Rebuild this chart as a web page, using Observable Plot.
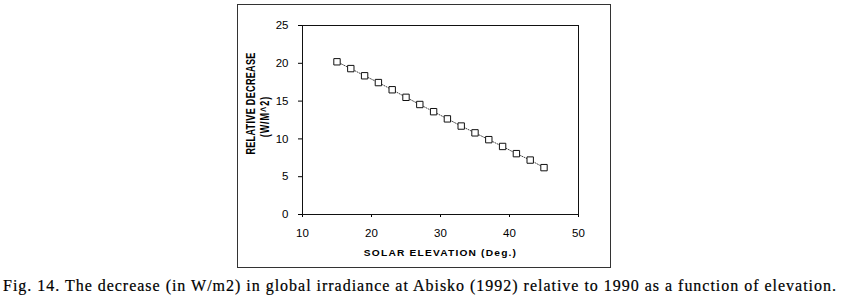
<!DOCTYPE html>
<html>
<head>
<meta charset="utf-8">
<script src="https://cdn.jsdelivr.net/npm/d3@7"></script>
<script src="https://cdn.jsdelivr.net/npm/@observablehq/plot@0.6"></script>
<style>
  html, body { margin: 0; padding: 0; background: #fff; width: 842px; height: 300px; overflow: hidden; }
  #frame { position: absolute; left: 237px; top: 4px; width: 372px; height: 262px; border: 1px solid #333; }
  #caption { position: absolute; left: 3px; top: 277px; white-space: nowrap; line-height: 18px;
    font-family: "Liberation Serif", "DejaVu Serif", serif; font-size: 16px; color: #000;
    -webkit-text-stroke: 0.2px #000; }
</style>
</head>
<body>
<div id="frame"></div>
<div id="caption">Fig. 14. The decrease (in W/m2) in global irradiance at Abisko (1992) relative to 1990 as a function of elevation.</div>
<script>
const elevation = [15, 17, 19, 21, 23, 25, 27, 29, 31, 33, 35, 37, 39, 41, 43, 45];
const decrease = [20.2, 19.3, 18.35, 17.45, 16.5, 15.5, 14.55, 13.6, 12.65, 11.7, 10.8, 9.9, 9.0, 8.05, 7.2, 6.2];
const xTicks = [10, 20, 30, 40, 50];
const yTicks = [0, 5, 10, 15, 20, 25];
const xLabel = "SOLAR ELEVATION (Deg.)";
const yLabelLines = ["RELATIVE DECREASE", "(W/M^2)"];

const data = elevation.map((e, i) => ({elevation: e, decrease: decrease[i]}));

const chart = Plot.plot({
  width: 372,
  height: 262,
  marginLeft: 64,
  marginRight: 32,
  marginTop: 20,
  marginBottom: 53,
  style: {fontFamily: "'Liberation Sans', Arial, sans-serif", fontSize: "11.5px", color: "#000", background: "transparent"},
  x: {domain: [10, 50], ticks: xTicks, tickSize: 3, tickPadding: 11, label: null},
  y: {domain: [0, 25], ticks: yTicks, tickSize: 4, tickPadding: 10, label: null},
  marks: [
    Plot.frame({stroke: "#111", strokeWidth: 1}),
    Plot.line(data, {x: "elevation", y: "decrease", stroke: "#444", strokeWidth: 1, strokeDasharray: "1,1.5"}),
    Plot.dot(data, {x: "elevation", y: "decrease", symbol: "square", r: 3.6, stroke: "#111", fill: "white", strokeWidth: 1}),
    Plot.text([xLabel], {text: d => d, frameAnchor: "bottom", textAnchor: "middle", lineAnchor: "middle", dy: 39, fontWeight: "bold", fontSize: 8.5, fill: "#000"}),
    Plot.text([yLabelLines[0]], {text: d => d, frameAnchor: "left", textAnchor: "middle", lineAnchor: "middle", dx: -51.5, dy: -16.5, rotate: -90, fontWeight: "bold", fontSize: 9, fill: "#000"}),
    Plot.text([yLabelLines[1]], {text: d => d, frameAnchor: "left", textAnchor: "middle", lineAnchor: "middle", dx: -38, dy: -3.5, rotate: -90, fontWeight: "bold", fontSize: 9, fill: "#000"})
  ]
});
chart.style.position = "absolute";
chart.style.left = "0px";
chart.style.top = "0px";
chart.querySelectorAll("text").forEach(t => {
  const s = t.textContent;
  if (s === xLabel) {
    t.setAttribute("letter-spacing", "1");
    t.setAttribute("transform", (t.getAttribute("transform") || "") + " scale(1.2,1)");
  } else if (s === yLabelLines[0]) {
    t.setAttribute("letter-spacing", "0.35");
    t.setAttribute("transform", (t.getAttribute("transform") || "") + " scale(1,1.4)");
  } else if (s === yLabelLines[1]) {
    t.setAttribute("letter-spacing", "1");
    t.setAttribute("transform", (t.getAttribute("transform") || "") + " scale(1,1.4)");
  }
});
document.getElementById("frame").appendChild(chart);

const cap = document.getElementById("caption");
const w = cap.getBoundingClientRect().width;
const n = cap.textContent.length;
cap.style.letterSpacing = ((834 - w) / n) + "px";
</script>
</body>
</html>
